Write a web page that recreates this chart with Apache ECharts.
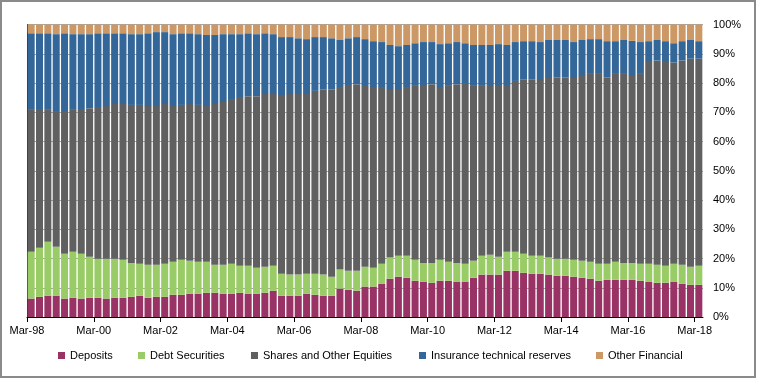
<!DOCTYPE html>
<html>
<head>
<meta charset="utf-8">
<script src="https://cdn.jsdelivr.net/npm/echarts@6/dist/echarts.min.js"></script>
<style>
  html, body { margin: 0; padding: 0; background: #fff; }
  #chart { width: 757px; height: 379px; }
</style>
</head>
<body>
<div id="chart"></div>
<script>
// quarterly, Mar-98 .. Mar-18
const categories = [
  'Mar-98','Jun-98','Sep-98','Dec-98','Mar-99','Jun-99','Sep-99','Dec-99',
  'Mar-00','Jun-00','Sep-00','Dec-00','Mar-01','Jun-01','Sep-01','Dec-01',
  'Mar-02','Jun-02','Sep-02','Dec-02','Mar-03','Jun-03','Sep-03','Dec-03',
  'Mar-04','Jun-04','Sep-04','Dec-04','Mar-05','Jun-05','Sep-05','Dec-05',
  'Mar-06','Jun-06','Sep-06','Dec-06','Mar-07','Jun-07','Sep-07','Dec-07',
  'Mar-08','Jun-08','Sep-08','Dec-08','Mar-09','Jun-09','Sep-09','Dec-09',
  'Mar-10','Jun-10','Sep-10','Dec-10','Mar-11','Jun-11','Sep-11','Dec-11',
  'Mar-12','Jun-12','Sep-12','Dec-12','Mar-13','Jun-13','Sep-13','Dec-13',
  'Mar-14','Jun-14','Sep-14','Dec-14','Mar-15','Jun-15','Sep-15','Dec-15',
  'Mar-16','Jun-16','Sep-16','Dec-16','Mar-17','Jun-17','Sep-17','Dec-17',
  'Mar-18'
];

// share of total financial assets, %
const deposits = [
  6.3,6.9,7.3,7.3,6.3,6.6,6.3,6.6, 6.6,6.3,6.6,6.6,6.9,7.3,6.6,6.9,
  6.9,7.6,7.6,8.0,8.0,8.3,8.3,8.0, 8.0,8.3,8.0,8.0,8.3,9.0,7.3,7.3,
  7.3,8.0,7.6,7.3,7.3,9.7,9.3,9.0, 10.4,10.4,11.4,13.1,13.8,13.4,12.4,12.1,
  11.7,12.4,12.4,12.1,12.1,13.4,14.5,14.5, 14.5,15.8,15.8,15.1,14.8,14.8,14.5,14.1,
  14.1,13.8,13.4,13.1,12.4,12.7,12.7,12.7, 12.7,12.4,12.1,11.7,11.7,12.1,11.4,11.0,
  11.0
];
const debtSecurities = [
  16.0,16.8,18.4,16.7,15.3,15.7,15.3,14.0, 13.3,13.6,13.3,13.0,11.6,10.9,11.3,11.0,
  11.3,11.3,12.0,11.2,10.9,10.6,9.6,9.9, 10.2,9.2,9.5,8.8,8.9,8.5,7.5,7.2,
  7.2,6.8,7.2,7.2,6.5,6.5,6.5,6.8, 6.8,6.4,6.8,7.2,7.1,7.5,7.2,6.4,
  6.8,7.2,6.5,6.4,6.1,5.8,6.4,6.8, 6.1,6.5,6.5,6.5,6.1,6.1,5.8,5.8,
  5.8,5.8,5.8,5.8,5.8,5.5,6.2,5.8, 5.8,5.8,6.1,6.2,5.8,6.1,6.5,6.2,
  6.5
];
const sharesEquities = [
  48.5,47.4,45.1,46.1,48.8,48.5,49.5,50.8, 51.9,52.2,52.9,53.2,54.0,54.3,54.2,54.2,
  54.6,53.2,52.9,53.6,53.6,53.2,54.9,55.6, 56.0,57.7,58.0,58.7,59.0,58.7,61.1,61.7,
  61.7,61.4,62.5,63.4,64.1,62.1,63.5,63.8, 62.1,61.8,60.1,57.3,56.7,57.4,59.4,60.8,
  61.1,59.0,60.1,61.1,61.8,59.8,58.1,58.0, 58.7,57.0,58.4,59.7,60.4,60.1,61.4,62.1,
  62.1,62.1,63.5,64.2,64.9,63.8,64.2,64.6, 64.2,64.9,69.3,69.8,70.0,68.8,69.8,71.1,
  70.8
];
const insuranceReserves = [
  26.2,25.9,26.2,26.6,26.6,25.9,25.6,25.3, 25.2,24.9,24.2,24.2,24.2,24.2,24.9,25.3,
  24.6,24.6,24.5,24.2,24.2,24.3,23.6,23.2, 22.5,21.5,21.5,21.2,20.8,20.5,19.8,19.5,
  19.1,18.8,18.4,17.8,17.4,16.4,16.0,16.1, 15.7,15.7,15.7,15.4,15.0,14.7,14.6,14.7,
  14.4,14.7,14.6,14.4,13.6,14.0,14.0,13.7, 14.0,13.7,13.3,13.0,13.0,13.0,13.0,12.7,
  12.7,12.3,12.0,11.9,11.9,12.3,11.2,11.6, 11.7,10.9,6.8,7.0,6.8,6.6,6.6,6.4,
  6.0
];
const otherFinancial = [
  3.0,3.0,3.0,3.3,3.0,3.3,3.3,3.3, 3.0,3.0,3.0,3.0,3.3,3.3,3.0,2.6,
  2.6,3.3,3.0,3.0,3.3,3.6,3.6,3.3, 3.3,3.3,3.0,3.3,3.0,3.3,4.3,4.3,
  4.7,5.0,4.3,4.3,4.7,5.3,4.7,4.3, 5.0,5.7,6.0,7.0,7.4,7.0,6.4,6.0,
  6.0,6.7,6.4,6.0,6.4,7.0,7.0,7.0, 6.7,7.0,6.0,5.7,5.7,6.0,5.3,5.3,
  5.3,6.0,5.3,5.0,5.0,5.7,5.7,5.3, 5.6,6.0,5.7,5.3,5.7,6.4,5.7,5.3,
  5.7
];

// every 8th quarter gets a tick/label (Mar of even years)
const tickIndex = [0, 8, 16, 24, 32, 40, 48, 56, 64, 72, 80];

const seriesDefs = [
  { name: 'Deposits', data: deposits, color: '#993366', legendLeft: 58 },
  { name: 'Debt Securities', data: debtSecurities, color: '#99cc66', legendLeft: 138 },
  { name: 'Shares and Other Equities', data: sharesEquities, color: '#606060', legendLeft: 251 },
  { name: 'Insurance technical reserves', data: insuranceReserves, color: '#336699', legendLeft: 419 },
  { name: 'Other Financial', data: otherFinancial, color: '#cc9966', legendLeft: 596 }
];

const font = 'Liberation Sans, Arial, sans-serif';
const chart = echarts.init(document.getElementById('chart'));

chart.setOption({
  animation: false,
  grid: { left: 27, right: 54, top: 24.5, bottom: 62 },
  legend: seriesDefs.map(function (s) {
    return {
      data: [s.name],
      left: s.legendLeft,
      top: 350,
      padding: 0,
      icon: 'rect',
      itemWidth: 7,
      itemHeight: 7,
      selectedMode: false,
      textStyle: { fontFamily: font, fontSize: 11, color: '#000' }
    };
  }),
  xAxis: [
    {
      type: 'category',
      data: categories,
      boundaryGap: true,
      show: false
    },
    {
      // value axis only used for the ticks at the quarter boundaries
      type: 'value',
      position: 'bottom',
      min: 0,
      max: categories.length,
      axisLine: { show: true, lineStyle: { color: '#000', width: 1 } },
      axisTick: { show: true, length: 5, customValues: tickIndex, lineStyle: { color: '#000' } },
      axisLabel: {
        customValues: tickIndex,
        margin: 8,
        fontFamily: font,
        fontSize: 11,
        color: '#000',
        formatter: function (v) { return categories[v] || ''; }
      },
      splitLine: { show: false }
    }
  ],
  yAxis: {
    type: 'value',
    position: 'right',
    min: 0,
    max: 100,
    interval: 10,
    axisLine: { show: true, lineStyle: { color: '#333' } },
    axisTick: { show: false },
    axisLabel: {
      margin: 10,
      fontFamily: font,
      fontSize: 11,
      color: '#000',
      formatter: '{value}%'
    },
    splitLine: { show: true, lineStyle: { color: '#a6a6a6', width: 1 } }
  },
  series: seriesDefs.map(function (s) {
    return {
      name: s.name,
      type: 'bar',
      stack: 'total',
      xAxisIndex: 0,
      barCategoryGap: '16%',
      data: s.data,
      itemStyle: { color: s.color }
    };
  }),
  graphic: [{
    type: 'rect',
    shape: { x: 1, y: 1, width: 754, height: 376 },
    style: { fill: 'none', stroke: '#8a8a8a', lineWidth: 2 },
    silent: true
  }]
});
</script>
</body>
</html>
